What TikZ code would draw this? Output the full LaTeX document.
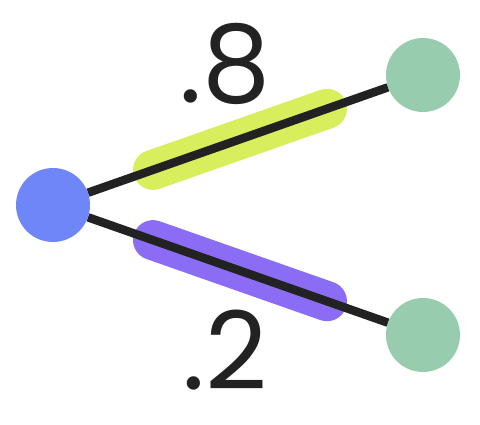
\documentclass[tikz,border=0pt]{standalone}
\usepackage{fontspec}
\setmainfont{Poppins}
\definecolor{nodeblue}{HTML}{6E86F8}
\definecolor{nodegreen}{HTML}{97CDAE}
\definecolor{barlime}{HTML}{D9EE5C}
\definecolor{barpurple}{HTML}{8B6CF4}
\definecolor{ink}{HTML}{222222}
\begin{document}
\begin{tikzpicture}[x=1pt,y=-1pt,
  dot/.style={circle,minimum size=74pt,inner sep=0pt},
  bar/.style={line width=40pt,line cap=round},
  edge/.style={draw=ink,line width=8.5pt},
  prob/.style={font=\fontsize{108}{108}\selectfont,text=ink,inner sep=0pt}]
\useasboundingbox (0,0) rectangle (480,424);
\node[dot,fill=nodeblue] (root) at (53,205) {};
\node[dot,fill=nodegreen] (up) at (423,75) {};
\node[dot,fill=nodegreen] (down) at (423,335) {};
\coordinate (ua) at (153,169.9);
\coordinate (ub) at (327,108.8);
\coordinate (da) at (153,240.1);
\coordinate (db) at (327,301.2);
\draw[bar,barlime] (ua) -- (ub);
\draw[bar,barpurple] (da) -- (db);
\draw[edge] (root) -- (up);
\draw[edge] (root) -- (down);
\node[prob,anchor=base] (p8) at (225,102) {.8};
\node[prob,anchor=base] (p2) at (225,389) {.2};
\end{tikzpicture}
\end{document}
